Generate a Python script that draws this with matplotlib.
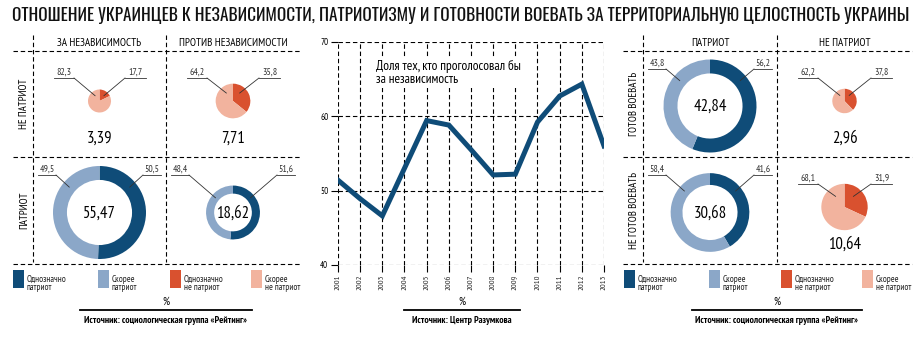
import numpy as np
import matplotlib
matplotlib.use('Agg')
import matplotlib.pyplot as plt
from matplotlib.patches import Wedge, Rectangle

NARROW = ['PT Sans Narrow', 'Liberation Sans', 'DejaVu Sans']
HEAD = ['Oswald', 'PT Sans Narrow', 'Liberation Sans', 'DejaVu Sans']
plt.rcParams['font.family'] = NARROW

# --- data -------------------------------------------------------------
years = [2001, 2002, 2003, 2004, 2005, 2006, 2007, 2008, 2009, 2010, 2011, 2012, 2013]
independence_share = [51.4, 48.9, 46.6, 53.0, 59.4, 58.8, 55.5, 52.1, 52.2, 59.2, 62.7, 64.3, 56.0]

left_cols = ['ЗА НЕЗАВИСИМОСТЬ', 'ПРОТИВ НЕЗАВИСИМОСТИ']
left_rows = ['НЕ ПАТРИОТ', 'ПАТРИОТ']
left_totals = [[3.39, 7.71], [55.47, 18.62]]
left_definite = [[17.7, 35.8], [50.5, 51.6]]
left_probable = [[82.3, 64.2], [49.5, 48.4]]
left_is_patriot = [[False, False], [True, True]]

right_cols = ['ПАТРИОТ', 'НЕ ПАТРИОТ']
right_rows = ['ГОТОВ ВОЕВАТЬ', 'НЕ ГОТОВ ВОЕВАТЬ']
right_totals = [[42.84, 2.96], [30.68, 10.64]]
right_definite = [[56.2, 37.8], [41.6, 31.9]]
right_probable = [[43.8, 62.2], [58.4, 68.1]]
right_is_patriot = [[True, False], [True, False]]

legend_labels = ['Однозначно\nпатриот', 'Скорее\nпатриот', 'Однозначно\nне патриот', 'Скорее\nне патриот']

title = 'ОТНОШЕНИЕ УКРАИНЦЕВ К НЕЗАВИСИМОСТИ, ПАТРИОТИЗМУ И ГОТОВНОСТИ ВОЕВАТЬ ЗА ТЕРРИТОРИАЛЬНУЮ ЦЕЛОСТНОСТЬ УКРАИНЫ'
src_rating = 'Источник: социологическая группа «Рейтинг»'
src_razumkov = 'Источник: Центр Разумкова'
line_note = 'Доля тех, кто проголосовал бы\nза независимость'

# colours
DARK_BLUE = '#0f4c78'
LIGHT_BLUE = '#8ba7c8'
RED = '#d9512f'
SALMON = '#f2b39e'
legend_colors = [DARK_BLUE, LIGHT_BLUE, RED, SALMON]

W, H = 920, 357
fig = plt.figure(figsize=(W / 100, H / 100), dpi=100)
ax = fig.add_axes([0, 0, 1, 1])
ax.set_xlim(0, W)
ax.set_ylim(H, 0)
ax.axis('off')
renderer = fig.canvas.get_renderer()

DASH = (0, (4, 2.5))


def fit_width(t, target, max_size):
    # shrink the font until the text is as wide as in the reference
    w = t.get_window_extent(renderer).width
    t.set_fontsize(min(max_size, t.get_fontsize() * target / w))


def fmt(v):
    return ('%g' % v).replace('.', ',')


def dline(x0, y0, x1, y1):
    ax.plot([x0, x1], [y0, y1], color='black', lw=0.8, linestyle=DASH)


def ring(cx, cy, r, definite, probable, patriot):
    c1, c2 = (DARK_BLUE, LIGHT_BLUE) if patriot else (RED, SALMON)
    f = definite / (definite + probable)
    width = 0.3 * r if patriot else None
    # y axis is inverted: data angles are mirrored on screen
    ax.add_patch(Wedge((cx, cy), r, -90, -90 + f * 360, width=width, facecolor=c1, edgecolor='none'))
    ax.add_patch(Wedge((cx, cy), r, -90 + f * 360, 270, width=width, facecolor=c2, edgecolor='none'))


def leader(text, x0, x1, y, px, py, left):
    ax.text((x0 + x1) / 2, y - 1.2, text, ha='center', va='bottom', fontsize=7, color='#333333')
    ax.plot([x0, x1], [y, y], color='#333333', lw=0.6)
    sx = x1 if left else x0
    ax.plot([sx, px], [y, py], color='#333333', lw=0.6)


def panel(x_left, x_mid, x_right, x_start, x_end, cols, rows, totals, definite, probable, patriot, legend_x):
    y_top, y_mid, y_bot = 51, 157, 264
    for yy in (y_top, y_mid, y_bot):
        dline(x_start, yy, x_end, yy)
    for xx in (x_left, x_mid):
        dline(xx, 35, xx, 262)
    col_bounds = [(x_left, x_mid), (x_mid, x_right)]
    row_bounds = [(y_top, y_mid), (y_mid, y_bot)]
    for j, name in enumerate(cols):
        ax.text(sum(col_bounds[j]) / 2, 42.5, name, ha='center', va='center', fontsize=8)
    for i, name in enumerate(rows):
        ax.text((x_start + x_left) / 2 + 1, sum(row_bounds[i]) / 2, name, ha='center', va='center',
                rotation=90, fontsize=7.8)
    vmax = max(max(r) for r in totals)
    for i in range(2):
        for j in range(2):
            cl, cr = col_bounds[j]
            ct, cb = row_bounds[i]
            cx = (cl + cr) / 2
            r = 46.5 * np.sqrt(totals[i][j] / vmax)
            pat = patriot[i][j]
            if pat:
                cy = (ct + cb) / 2 + 2
                ring(cx, cy, r, definite[i][j], probable[i][j], True)
                ax.text(cx, cy + 1, fmt(totals[i][j]), ha='center', va='center', fontsize=12)
                ly = ct + 18
                lx = (cl + 5, cl + 23, cr - 23, cr - 5)
                rr = 0.85 * r
                ang = 40
            else:
                cy = ct + 50
                ring(cx, cy, r, definite[i][j], probable[i][j], False)
                ax.text(cx, ct + 88, fmt(totals[i][j]), ha='center', va='center', fontsize=12)
                ly = ct + 27
                lx = (cl + 21, cl + 41, cr - 41, cr - 20)
                rr = 0.6 * r
                ang = 50
            a = np.radians(180 - ang)
            leader(fmt(probable[i][j]), lx[0], lx[1], ly, cx + rr * np.cos(a), cy - rr * np.sin(a), True)
            a = np.radians(ang)
            leader(fmt(definite[i][j]), lx[2], lx[3], ly, cx + rr * np.cos(a), cy - rr * np.sin(a), False)
    # legend
    offsets = [0, 85, 157, 238]
    for k, lab in enumerate(legend_labels):
        x0 = legend_x + offsets[k]
        ax.add_patch(Rectangle((x0, 270), 11, 18, facecolor=legend_colors[k], edgecolor='none'))
        ax.text(x0 + 14, 274.5, lab, ha='left', va='top', fontsize=6.7, linespacing=1.0, color='#222222')


# title
t = ax.text(12, 16, title, ha='left', va='center', fontsize=17, family=HEAD, color='#111111')
fit_width(t, 893, 17)

panel(33, 166, 300, 13, 300, left_cols, left_rows, left_totals, left_definite, left_probable,
      left_is_patriot, 13)
panel(643, 777, 912, 623, 912, right_cols, right_rows, right_totals, right_definite, right_probable,
      right_is_patriot, 624)

# footers
for cx, half, src in [(166, 86, src_rating), (462, 58, src_razumkov), (777, 85, src_rating)]:
    ax.text(cx, 301.5, '%', ha='center', va='center', fontsize=8)
    ax.plot([cx - half, cx + half], [310, 310], color='black', lw=1.3)
    ax.text(cx, 320.5, src, ha='center', va='center', fontsize=7, fontweight='bold')

# --- line chart -------------------------------------------------------
lx = fig.add_axes([338 / W, (H - 265) / H, 266 / W, 223.3 / H])
lx.patch.set_alpha(0)
lx.plot(years, independence_share, color=DARK_BLUE, lw=3.6, solid_joinstyle='miter', zorder=3)
lx.set_xlim(2001, 2013)
lx.set_ylim(40, 70)
lx.set_yticks([40, 50, 60, 70])
lx.set_xticks(years)
lx.set_xticklabels([str(y) for y in years], rotation=90, fontsize=6)
lx.tick_params(axis='y', labelsize=6.5, length=5, width=0.8, pad=2)
lx.tick_params(axis='x', length=5, width=0.8, pad=2, labelcolor='#222222')
lx.grid(True, color='black', lw=0.8, linestyle=DASH)
for s in lx.spines.values():
    s.set_visible(False)
note = lx.text(2002.7, 67.6, line_note, ha='left', va='top', fontsize=11, linespacing=1.05,
               bbox=dict(facecolor='white', edgecolor='none', pad=1.5))
fit_width(note, 147, 11)

fig.savefig('out.png', dpi=100)
